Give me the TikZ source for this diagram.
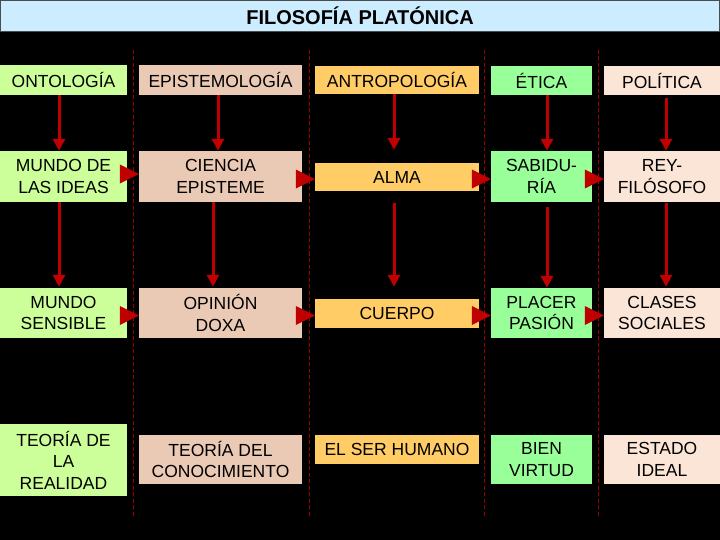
\documentclass[tikz,border=0pt]{standalone}
\usepackage{fontspec}
\setmainfont{Liberation Sans}
\usetikzlibrary{arrows.meta,calc}
\definecolor{titleblue}{HTML}{CCECFF}
\definecolor{colA}{HTML}{CCFF99}
\definecolor{colB}{HTML}{EBCAB5}
\definecolor{colC}{HTML}{FFCC66}
\definecolor{colD}{HTML}{99FF99}
\definecolor{colE}{HTML}{FBE5D6}
\definecolor{arrowred}{HTML}{C00000}
\definecolor{sepred}{HTML}{9A0000}
\newcommand\headto[2]{\fill[arrowred] ($(#1.west)+(-19,#2-9.5)$) -- ($(#1.west)+(0,#2)$) -- ($(#1.west)+(-19,#2+9.5)$) -- cycle;}
\begin{document}
\begin{tikzpicture}[x=1pt,y=-1pt,
  box/.style={inner sep=0pt, align=center, font=\fontsize{17.5}{21.5}\selectfont, text=black},
  cA/.style={box, fill=colA, minimum width=127pt},
  cB/.style={box, fill=colB, minimum width=163pt},
  cC/.style={box, fill=colC, minimum width=164pt},
  cD/.style={box, fill=colD, minimum width=101pt},
  cE/.style={box, fill=colE, minimum width=116pt},
  varrow/.style={draw=arrowred, line width=3pt, -{Triangle[length=12pt,width=12pt]}},
  sepline/.style={draw=sepred, line width=0.8pt, dash pattern=on 4pt off 2.5pt},
  titlebox/.style={fill=titleblue, draw=gray!60!black, line width=1pt, minimum width=719pt, minimum height=31pt, inner sep=0pt, font=\fontsize{20}{24}\selectfont\bfseries}
]
\useasboundingbox (0,0) rectangle (720,540);
\fill[black] (0,0) rectangle (720,540);

\node[titlebox] (title) at (360,16) {FILOSOFÍA PLATÓNICA};

% separators
\draw[sepline] (133,50) -- (133,518);
\draw[sepline] (309,50) -- (309,518);
\draw[sepline] (484,50) -- (484,518);
\draw[sepline] (598,50) -- (598,518);

% row 1
\node[cA, minimum height=30pt] (o1) at (63.5,80) {ONTOLOGÍA};
\node[cB, minimum height=30pt] (o2) at (220.5,80) {EPISTEMOLOGÍA};
\node[cC, minimum height=28pt] (o3) at (397,80) {ANTROPOLOGÍA};
\node[cD, minimum height=29pt] (o4) at (541.5,80.5) {ÉTICA};
\node[cE, minimum height=29pt] (o5) at (662,80.5) {POLÍTICA};

% row 2
\node[cA, minimum height=51pt] (m1) at (63.5,176.5) {MUNDO DE\\LAS IDEAS};
\node[cB, minimum height=51pt] (m2) at (220.5,176.5) {CIENCIA\\EPISTEME};
\node[cC, minimum height=28pt] (m3) at (397,177) {ALMA};
\node[cD, minimum height=51pt] (m4) at (541.5,176.5) {SABIDU-\\RÍA};
\node[cE, minimum height=51pt] (m5) at (662,176.5) {REY-\\FILÓSOFO};

% row 3
\node[cA, minimum height=50pt] (s1) at (63.5,313) {MUNDO\\SENSIBLE};
\node[cB, minimum height=50pt] (s2) at (220.5,313) {OPINIÓN\\DOXA};
\node[cC, minimum height=29pt] (s3) at (397,313.5) {CUERPO};
\node[cD, minimum height=50pt] (s4) at (541.5,313) {PLACER\\PASIÓN};
\node[cE, minimum height=50pt] (s5) at (662,313) {CLASES\\SOCIALES};

% row 4
\node[cA, minimum height=72pt] (t1) at (63.5,460) {TEORÍA DE\\LA\\REALIDAD};
\node[cB, minimum height=49pt] (t2) at (220.5,459.5) {TEORÍA DEL\\CONOCIMIENTO};
\node[cC, minimum height=29pt] (t3) at (397,449.5) {EL SER HUMANO};
\node[cD, minimum height=49pt] (t4) at (541.5,459.5) {BIEN\\VIRTUD};
\node[cE, minimum height=49pt] (t5) at (662,459.5) {ESTADO\\IDEAL};

% vertical arrows row 1 -> row 2
\draw[varrow] ($(o1.south)+(-4.5,0)$) -- ($(m1.north)+(-4.5,0)$);
\draw[varrow] ($(o2.south)+(-2.5,0)$) -- ($(m2.north)+(-2.5,0)$);
\draw[varrow] ($(o3.south)+(-3,0)$) -- ($(m3.north)+(-3,-13)$);
\draw[varrow] ($(o4.south)+(5.5,0)$) -- ($(m4.north)+(5.5,0)$);
\draw[varrow] ($(o5.south)+(4,3)$) -- ($(m5.north)+(4,0)$);

% vertical arrows row 2 -> row 3
\draw[varrow] ($(m1.south)+(-4.5,0)$) -- ($(s1.north)+(-4.5,-1)$);
\draw[varrow] ($(m2.south)+(-7.5,0)$) -- ($(s2.north)+(-7.5,-1)$);
\draw[varrow] ($(m3.south)+(-3,12)$) -- ($(s3.north)+(-3,-12)$);
\draw[varrow] ($(m4.south)+(5.5,5)$) -- ($(s4.north)+(5.5,0)$);
\draw[varrow] ($(m5.south)+(4,1)$) -- ($(s5.north)+(4,-1)$);

% horizontal arrow heads row 2
\headto{m2}{-2.5}
\headto{m3}{2}
\headto{m4}{2.5}
\headto{m5}{2.5}

% horizontal arrow heads row 3
\headto{s2}{2.5}
\headto{s3}{2}
\headto{s4}{2.5}
\headto{s5}{2.5}
\end{tikzpicture}
\end{document}
